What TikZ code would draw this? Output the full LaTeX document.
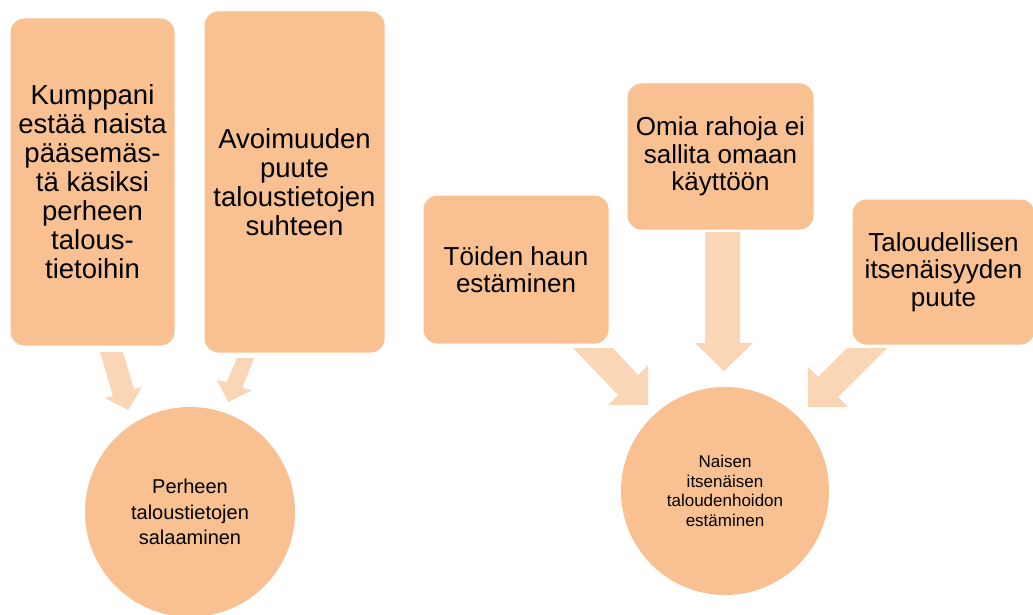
\documentclass[tikz,border=0pt]{standalone}
\usepackage{fontspec}
\setmainfont{Liberation Sans}
\definecolor{boxfill}{HTML}{F9C191}
\definecolor{arrowfill}{HTML}{FBD6B6}
\begin{document}
\begin{tikzpicture}[x=1pt,y=-1pt,
  box/.style={draw=white, line width=1pt, fill=boxfill, rounded corners=14pt,
    inner sep=0pt, align=center, text=black},
  bigtext/.style={font=\fontsize{27.5}{29}\selectfont},
  midtext/.style={font=\fontsize{26}{27.5}\selectfont},
  hub/.style={circle, fill=boxfill, inner sep=0pt, align=center, text=black},
  blockarrow/.style={fill=arrowfill}]
\clip (0,0) rectangle (1033,615);
% block arrows (drawn first, under the boxes)
\fill[blockarrow] (100,352) -- (123,352) -- (134,389) -- (142,387) -- (128,410) -- (105,398) -- (113,396) -- cycle;
\fill[blockarrow] (237,358) -- (254,358) -- (242.4,388) -- (252.3,390) -- (228.3,402) -- (216.7,380) -- (226.6,382) -- cycle;
\fill[blockarrow] (573,348) -- (613,348) -- (638,375) -- (648,365) -- (648,405) -- (608,405) -- (618,395) -- cycle;
\fill[blockarrow] (705,232) -- (740,232) -- (740,343) -- (753,343) -- (724,371) -- (695,343) -- (705,343) -- cycle;
\fill[blockarrow] (847,348) -- (887,348) -- (838,397) -- (848,407) -- (808,407) -- (808,367) -- (818,377) -- cycle;
% boxes
\node[box, bigtext, minimum width=165pt, minimum height=328pt] (b1) at (92.5,182)
  {Kumppani\\estää naista\\pääsemäs-\\tä käsiksi\\perheen\\talous-\\tietoihin};
\node[box, bigtext, minimum width=181pt, minimum height=342pt] (b2) at (294.5,182)
  {Avoimuuden\\puute\\taloustietojen\\suhteen};
\node[box, midtext, minimum width=186pt, minimum height=149pt] (b3) at (516,269.5)
  {Töiden haun\\estäminen};
\node[box, midtext, minimum width=187pt, minimum height=147pt] (b4) at (720.5,156.5)
  {Omia rahoja ei\\sallita omaan\\käyttöön};
\node[box, midtext, minimum width=183pt, minimum height=146pt] (b5) at (943.5,272)
  {Taloudellisen\\itsenäisyyden\\puute};
% hubs
\node[hub, minimum size=210pt, font=\fontsize{20}{25.5}\selectfont] (c1) at (190,512)
  {Perheen\\taloustietojen\\salaaminen};
\node[hub, minimum size=208pt, font=\fontsize{17}{19.5}\selectfont] (c2) at (725,491)
  {Naisen\\itsenäisen\\taloudenhoidon\\estäminen};
\end{tikzpicture}
\end{document}
